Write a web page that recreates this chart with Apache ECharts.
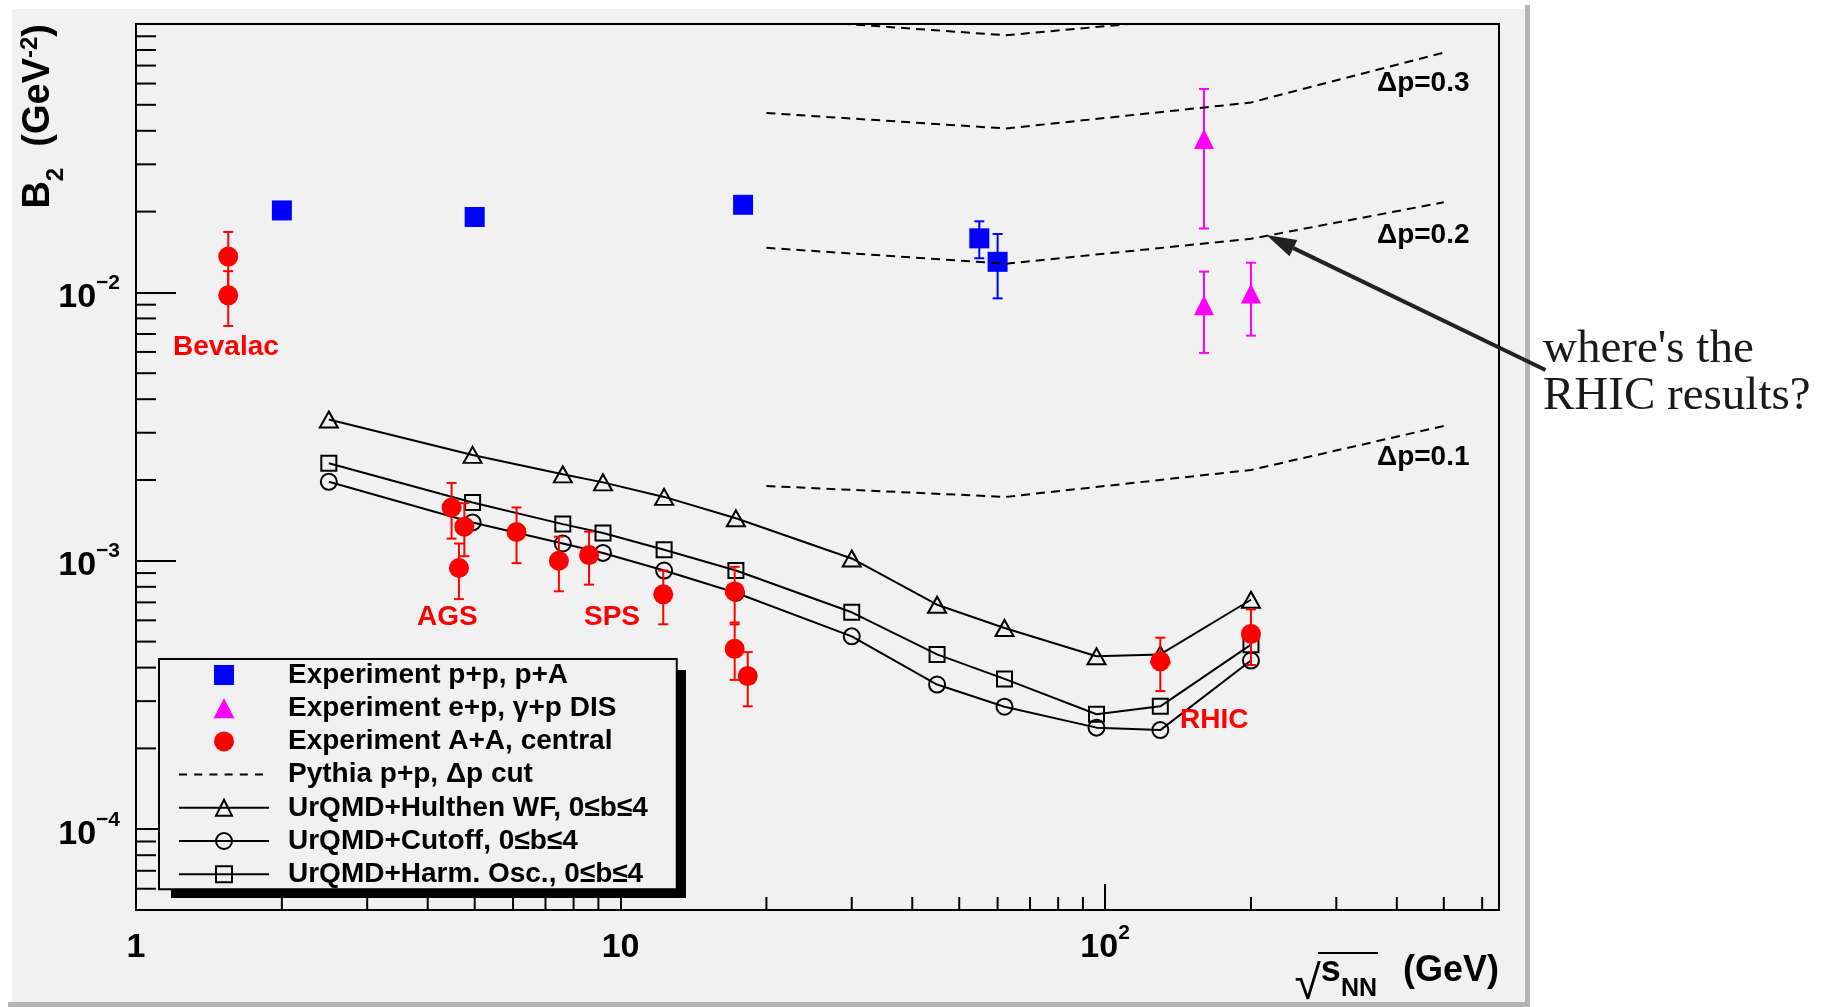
<!DOCTYPE html>
<html>
<head>
<meta charset="utf-8">
<title>B2 vs sqrt(s_NN)</title>
<script src="https://cdn.jsdelivr.net/npm/echarts@6/dist/echarts.min.js"></script>
<style>
  html, body { margin: 0; padding: 0; background: #ffffff; }
  #chart { width: 1836px; height: 1007px; }
</style>
</head>
<body>
<div id="chart"></div>
<script>
// ---------------- data ----------------
// UrQMD calculations (sqrt(s_NN) in GeV, B2 in GeV^-2)
const urqmdEnergy  = [2.5, 4.95, 7.6, 9.2, 12.3, 17.3, 30, 45, 62, 96, 130, 200];
const urqmdHulthen = [3.36e-3, 2.48e-3, 2.10e-3, 1.96e-3, 1.73e-3, 1.44e-3, 1.02e-3, 6.86e-4, 5.62e-4, 4.41e-4, 4.48e-4, 7.16e-4];
const urqmdCutoff  = [1.97e-3, 1.39e-3, 1.16e-3, 1.07e-3, 9.2e-4, 7.6e-4, 5.23e-4, 3.46e-4, 2.86e-4, 2.39e-4, 2.34e-4, 4.25e-4];
const urqmdHarmOsc = [2.31e-3, 1.65e-3, 1.37e-3, 1.27e-3, 1.10e-3, 9.2e-4, 6.43e-4, 4.48e-4, 3.63e-4, 2.68e-4, 2.87e-4, 4.87e-4];

// Pythia p+p with a momentum-space cut
const pythiaEnergy = [20, 62.4, 200, 500];
const pythiaDp01 = [1.90e-3, 1.73e-3, 2.18e-3, 3.18e-3];
const pythiaDp02 = [0.01466, 0.01279, 0.01584, 0.02166];
const pythiaDp03 = [0.0466, 0.0408, 0.0510, 0.0782];
const pythiaDp04Energy = [20, 62.4, 200];
const pythiaDp04 = [0.105, 0.0908, 0.110];

// Experiment p+p, p+A
const ppEnergy = [2.0, 5.0, 17.9, 55, 60];
const ppB2     = [0.0202, 0.0191, 0.0212, 0.0159, 0.0130];
const ppErr    = [0, 0, 0, 0.0025, 0.0035];

// Experiment e+p, gamma+p DIS
const epEnergy = [160, 160, 200];
const epB2     = [0.0373, 0.00895, 0.0099];
const epErr    = [0.020, 0.003, 0.003];

// Experiment A+A, central
const aaEnergy = [1.55, 1.55, 4.48, 4.76, 4.64, 6.1, 7.46, 8.61, 12.25, 17.2, 17.2, 18.3, 130, 200];
const aaB2     = [0.0136, 0.00975, 1.58e-3, 1.34e-3, 9.4e-4, 1.28e-3, 1.0e-3, 1.05e-3, 7.5e-4, 7.69e-4, 4.70e-4, 3.72e-4, 4.22e-4, 5.34e-4];
const aaErr    = [0.0032, 0.00225, 0.37e-3, 0.30e-3, 0.22e-3, 0.30e-3, 0.23e-3, 0.235e-3, 0.17e-3, 0.18e-3, 0.11e-3, 0.085e-3, 0.095e-3, 0.125e-3];

// axis ranges, labelled decades and minor tick positions
const X_MIN = 1, X_MAX = 650;
const Y_MIN = 5e-5, Y_MAX = 0.1;
const xLabelledDecades = [0, 1, 2];
const yLabelledDecades = [-4, -3, -2];
const xMinorTicks = [2, 3, 4, 5, 6, 7, 8, 9, 20, 30, 40, 50, 60, 70, 80, 90, 200, 300, 400, 500, 600];
const yMinorTicks = [6e-5, 7e-5, 8e-5, 9e-5,
  2e-4, 3e-4, 4e-4, 5e-4, 6e-4, 7e-4, 8e-4, 9e-4,
  2e-3, 3e-3, 4e-3, 5e-3, 6e-3, 7e-3, 8e-3, 9e-3,
  2e-2, 3e-2, 4e-2, 5e-2, 6e-2, 7e-2, 8e-2, 9e-2];

// legend names
const NAME_PP = 'Experiment p+p, p+A';
const NAME_EP = 'Experiment e+p, γ+p DIS';
const NAME_AA = 'Experiment A+A, central';
const NAME_PY = 'Pythia p+p, Δp cut';
const NAME_HU = 'UrQMD+Hulthen WF, 0≤b≤4';
const NAME_CU = 'UrQMD+Cutoff, 0≤b≤4';
const NAME_HO = 'UrQMD+Harm. Osc., 0≤b≤4';

// ---------------- helpers ----------------
const FONT = '"Liberation Sans", Arial, Helvetica, sans-serif';
const SERIF = '"Liberation Serif", "Times New Roman", serif';

const zip = (xs, ys) => xs.map((x, i) => [x, ys[i]]);
const zip3 = (xs, ys, es) => xs.map((x, i) => [x, ys[i], es[i]]);

// "1", "10", "10^n" labels only on the listed decades
function decadeFormatter(decades) {
  return function (v) {
    const l = Math.log10(v);
    const e = Math.round(l);
    if (Math.abs(l - e) > 1e-6 || decades.indexOf(e) < 0) return '';
    if (e === 0) return '{b|1}';
    if (e === 1) return '{b|10}';
    return '{b|10}{s|' + String(e).replace('-', '\u2212') + '}';
  };
}

const tickRich = {
  b: { fontFamily: FONT, fontWeight: 'bold', fontSize: 34, lineHeight: 44, padding: [10, 0, 0, 0], verticalAlign: 'bottom', color: '#000' },
  s: { fontFamily: FONT, fontWeight: 'bold', fontSize: 21, lineHeight: 23, padding: [2, 0, 0, 0], verticalAlign: 'top', color: '#000' }
};

const xNameRich = {
  sq:  { fontFamily: FONT, fontWeight: 'normal', fontSize: 48, padding: [0, 0, 0, 0], verticalAlign: 'bottom', color: '#000' },
  s:   { fontFamily: FONT, fontWeight: 'bold', fontSize: 36, padding: [0, 0, 20, 0], verticalAlign: 'bottom', color: '#000' },
  sub: { fontFamily: FONT, fontWeight: 'bold', fontSize: 25, padding: [0, 0, 8, 0], verticalAlign: 'bottom', color: '#000' },
  g:   { fontFamily: FONT, fontWeight: 'bold', fontSize: 36, padding: [0, 0, 20, 6], verticalAlign: 'bottom', color: '#000' }
};

const yNameRich = {
  b:   { fontFamily: FONT, fontWeight: 'bold', fontSize: 38, padding: [0, 0, 10, 0], verticalAlign: 'bottom', color: '#000' },
  sub: { fontFamily: FONT, fontWeight: 'bold', fontSize: 24, padding: [0, 0, 0, 0], verticalAlign: 'bottom', color: '#000' },
  t:   { fontFamily: FONT, fontWeight: 'bold', fontSize: 38, padding: [0, 0, 10, 0], verticalAlign: 'bottom', color: '#000' },
  sup: { fontFamily: FONT, fontWeight: 'bold', fontSize: 24, padding: [0, 0, 26, 0], verticalAlign: 'bottom', color: '#000' }
};

// vertical error bars with small caps
function errorBars(color) {
  return function (params, api) {
    const x = api.value(0), y = api.value(1), e = api.value(2);
    if (!e) return null;
    const hi = api.coord([x, y + e]);
    const lo = api.coord([x, y - e]);
    const cap = 5;
    const style = { stroke: color, lineWidth: 2 };
    return {
      type: 'group',
      children: [
        { type: 'line', shape: { x1: hi[0], y1: hi[1], x2: lo[0], y2: lo[1] }, style: style },
        { type: 'line', shape: { x1: hi[0] - cap, y1: hi[1], x2: hi[0] + cap, y2: hi[1] }, style: style },
        { type: 'line', shape: { x1: lo[0] - cap, y1: lo[1], x2: lo[0] + cap, y2: lo[1] }, style: style }
      ]
    };
  };
}

// log-axis minor ticks drawn inward from the frame
function xMinorTick(params, api) {
  const c = api.coord([api.value(0), Y_MIN]);
  return { type: 'line', shape: { x1: c[0], y1: c[1], x2: c[0], y2: c[1] - 13 }, style: { stroke: '#000', lineWidth: 2 } };
}
function yMinorTick(params, api) {
  const c = api.coord([X_MIN, api.value(1)]);
  return { type: 'line', shape: { x1: c[0], y1: c[1], x2: c[0] + 20, y2: c[1] }, style: { stroke: '#000', lineWidth: 2 } };
}

function urqmdSeries(name, values, symbol, size) {
  return {
    name: name, type: 'line', data: zip(urqmdEnergy, values),
    symbol: symbol, symbolSize: size, showAllSymbol: true,
    itemStyle: { color: 'rgba(0,0,0,0)', borderColor: '#000', borderWidth: 2 },
    lineStyle: { color: '#000', width: 2 },
    z: 3, silent: true
  };
}

function pythiaSeries(xs, ys) {
  return {
    name: NAME_PY, type: 'line', data: zip(xs, ys), symbol: 'none',
    itemStyle: { color: '#000' },
    lineStyle: { color: '#000', width: 2, type: [9, 6] },
    clip: true, z: 7, silent: true
  };
}

// legend icons drawn inside a 90x20 box (corner specks fix the box size)
const ICON_BOX = 'M0,0L0.05,0L0,0.05Z M90,20L89.95,20L90,19.95Z ';
const squareIcon = 'path://' + ICON_BOX + 'M35,0H55V20H35Z';
const triangleIcon = 'path://' + ICON_BOX + 'M34.5,20L45,0L55.5,20Z';
const dashIcon = 'path://' + ICON_BOX +
  'M0,9H8V11H0Z M15.2,9H23.2V11H15.2Z M30.4,9H38.4V11H30.4Z ' +
  'M45.6,9H53.6V11H45.6Z M60.8,9H68.8V11H60.8Z M76,9H84V11H76Z';

// legend box: fixed text width keeps its outline at a known size
const LEGEND_LEFT = 159, LEGEND_TOP = 659, LEGEND_W = 517, LEGEND_H = 229;

const chart = echarts.init(document.getElementById('chart'), null, { renderer: 'canvas', width: 1836, height: 1007 });

const option = {
  animation: false,
  backgroundColor: '#ffffff',
  grid: {
    left: 136, top: 24, width: 1363, height: 886,
    show: true, borderColor: '#000', borderWidth: 2, backgroundColor: 'rgba(0,0,0,0)',
    containLabel: false, outerBoundsMode: 'none'
  },
  xAxis: {
    type: 'log', logBase: 10, min: X_MIN, max: X_MAX,
    axisLine: { show: true, onZero: false, lineStyle: { color: '#000', width: 2 } },
    axisTick: { show: true, inside: true, length: 26, lineStyle: { color: '#000', width: 2 } },
    minorTick: { show: false }, splitLine: { show: false },
    axisLabel: { margin: 11, showMinLabel: true, showMaxLabel: false, formatter: decadeFormatter(xLabelledDecades), rich: tickRich, color: '#000' },
    name: '{sq|√}{s|s}{sub|NN}{g|  (GeV)}',
    nameLocation: 'end', nameGap: 0, nameMoveOverlap: false,
    nameTextStyle: { align: 'right', verticalAlign: 'top', padding: [43.5, 0, 0, 0], rich: xNameRich }
  },
  yAxis: {
    type: 'log', logBase: 10, min: Y_MIN, max: Y_MAX,
    axisLine: { show: true, onZero: false, lineStyle: { color: '#000', width: 2 } },
    axisTick: { show: true, inside: true, length: 40, lineStyle: { color: '#000', width: 2 } },
    minorTick: { show: false }, splitLine: { show: false },
    axisLabel: { margin: 16, showMinLabel: false, showMaxLabel: false, formatter: decadeFormatter(yLabelledDecades), rich: tickRich, color: '#000' },
    name: '{b|B}{sub|2}{t|  (GeV}{sup|-2}{t|)}',
    nameLocation: 'end', nameGap: 0, nameRotate: 90, nameMoveOverlap: false,
    nameTextStyle: { align: 'right', verticalAlign: 'bottom', padding: [0, 0, 68, 0], rich: yNameRich }
  },
  legend: {
    orient: 'vertical', left: LEGEND_LEFT, top: LEGEND_TOP,
    padding: [2, 29, 1, 19],
    itemWidth: 90, itemHeight: 20, itemGap: 5.2,
    backgroundColor: '#f1f1f1', borderColor: '#000', borderWidth: 2,
    selectedMode: false, symbolKeepAspect: true,
    textStyle: { fontFamily: FONT, fontWeight: 'bold', fontSize: 28, color: '#000', padding: [0, 0, 0, 14], width: 360, overflow: 'none' },
    data: [
      { name: NAME_PP, icon: squareIcon },
      { name: NAME_EP, icon: triangleIcon },
      { name: NAME_AA, icon: 'circle' },
      { name: NAME_PY, icon: dashIcon },
      { name: NAME_HU },
      { name: NAME_CU },
      { name: NAME_HO }
    ]
  },
  graphic: [
    // canvas panel with a bevelled border
    { type: 'rect', z: -10, silent: true, shape: { x: 12, y: 9, width: 1513, height: 993 }, style: { fill: '#f1f1f1' } },
    { type: 'rect', z: -9, silent: true, shape: { x: 1525, y: 5, width: 5, height: 1002 }, style: { fill: '#b4b4b4' } },
    { type: 'rect', z: -9, silent: true, shape: { x: 8, y: 1002, width: 1522, height: 5 }, style: { fill: '#b4b4b4' } },
    // solid drop shadow behind the legend box
    { type: 'rect', z: 3, silent: true, shape: { x: LEGEND_LEFT + 12, y: LEGEND_TOP + 11, width: LEGEND_W - 2, height: LEGEND_H - 1 }, style: { fill: '#000' } },
    // overbar of the square root in the x title
    { type: 'line', z: 10, silent: true, shape: { x1: 1318, y1: 953, x2: 1378, y2: 953 }, style: { stroke: '#000', lineWidth: 2 } },
    // cut labels on the Pythia curves
    { type: 'text', z: 10, silent: true, x: 1377, y: 83, style: { text: 'Δp=0.3', fontFamily: FONT, fontWeight: 'bold', fontSize: 28, fill: '#000', verticalAlign: 'middle' } },
    { type: 'text', z: 10, silent: true, x: 1377, y: 235, style: { text: 'Δp=0.2', fontFamily: FONT, fontWeight: 'bold', fontSize: 28, fill: '#000', verticalAlign: 'middle' } },
    { type: 'text', z: 10, silent: true, x: 1377, y: 457, style: { text: 'Δp=0.1', fontFamily: FONT, fontWeight: 'bold', fontSize: 28, fill: '#000', verticalAlign: 'middle' } },
    // accelerator labels
    { type: 'text', z: 10, silent: true, x: 173, y: 347, style: { text: 'Bevalac', fontFamily: FONT, fontWeight: 'bold', fontSize: 28, fill: '#ff0000', verticalAlign: 'middle' } },
    { type: 'text', z: 10, silent: true, x: 417, y: 617, style: { text: 'AGS', fontFamily: FONT, fontWeight: 'bold', fontSize: 28, fill: '#ff0000', verticalAlign: 'middle' } },
    { type: 'text', z: 10, silent: true, x: 584, y: 617, style: { text: 'SPS', fontFamily: FONT, fontWeight: 'bold', fontSize: 28, fill: '#ff0000', verticalAlign: 'middle' } },
    { type: 'text', z: 10, silent: true, x: 1180, y: 720, style: { text: 'RHIC', fontFamily: FONT, fontWeight: 'bold', fontSize: 28, fill: '#ff0000', verticalAlign: 'middle' } },
    // hand-written remark with an arrow pointing at the Δp=0.2 curve
    { type: 'line', z: 10, silent: true, shape: { x1: 1545.5, y1: 370, x2: 1293.4, y2: 248.1 }, style: { stroke: '#222', lineWidth: 4 } },
    { type: 'polygon', z: 10, silent: true, shape: { points: [[1266.4, 235], [1289.5, 256.2], [1297.3, 240.0]] }, style: { fill: '#222' } },
    { type: 'text', z: 10, silent: true, x: 1543, y: 326, style: { text: "where's the\nRHIC results?", fontFamily: SERIF, fontSize: 47, lineHeight: 47, fill: '#1a1a1a', verticalAlign: 'top' } }
  ],
  series: [
    urqmdSeries(NAME_HU, urqmdHulthen, 'triangle', [18, 16]),
    urqmdSeries(NAME_CU, urqmdCutoff, 'circle', 16),
    urqmdSeries(NAME_HO, urqmdHarmOsc, 'rect', 15),

    pythiaSeries(pythiaEnergy, pythiaDp01),
    pythiaSeries(pythiaEnergy, pythiaDp02),
    pythiaSeries(pythiaEnergy, pythiaDp03),
    pythiaSeries(pythiaDp04Energy, pythiaDp04),

    { name: 'pp errors', type: 'custom', renderItem: errorBars('#0000ff'), data: zip3(ppEnergy, ppB2, ppErr), z: 4, silent: true },
    { name: 'ep errors', type: 'custom', renderItem: errorBars('#ff00ff'), data: zip3(epEnergy, epB2, epErr), z: 4, silent: true },
    { name: 'AA errors', type: 'custom', renderItem: errorBars('#ff0000'), data: zip3(aaEnergy, aaB2, aaErr), z: 4, silent: true },

    { name: NAME_PP, type: 'scatter', data: zip(ppEnergy, ppB2), symbol: 'rect', symbolSize: 20, itemStyle: { color: '#0000ff', opacity: 1 }, z: 5, silent: true },
    { name: NAME_EP, type: 'scatter', data: zip(epEnergy, epB2), symbol: 'triangle', symbolSize: 20, itemStyle: { color: '#ff00ff', opacity: 1 }, z: 5, silent: true },
    { name: NAME_AA, type: 'scatter', data: zip(aaEnergy, aaB2), symbol: 'circle', symbolSize: 20, itemStyle: { color: '#ff0000', opacity: 1 }, z: 6, silent: true },

    { name: 'x minor ticks', type: 'custom', renderItem: xMinorTick, data: xMinorTicks.map(v => [v, Y_MIN]), z: 8, silent: true },
    { name: 'y minor ticks', type: 'custom', renderItem: yMinorTick, data: yMinorTicks.map(v => [X_MIN, v]), z: 8, silent: true }
  ]
};

chart.setOption(option);
</script>
</body>
</html>
